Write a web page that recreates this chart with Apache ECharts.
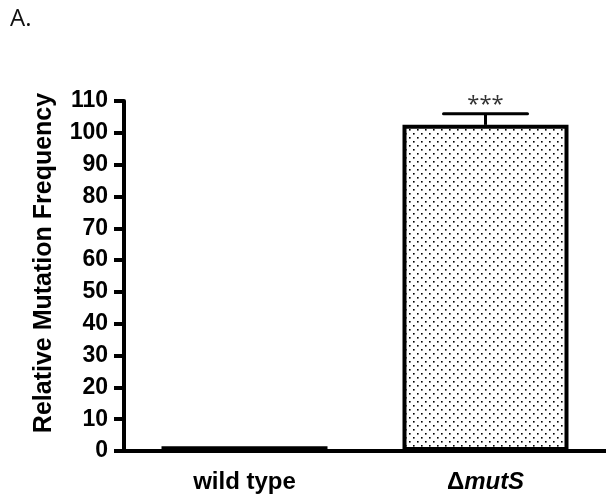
<!DOCTYPE html>
<html><head><meta charset="utf-8">
<script src="https://cdn.jsdelivr.net/npm/echarts@6/dist/echarts.min.js"></script>
<style>html,body{margin:0;padding:0;background:#fff}#c{width:606px;height:497px}</style>
</head><body><div id="c"></div>
<script>
const categories = ['wild type', 'ΔmutS'];
const means = [1.5, 102.5];
const errors = [0, 3.5];
const sigLabels = ['', '***'];
const yTicks = {min: 0, max: 110, interval: 10};

const tile = document.createElement('canvas');
tile.width = 8; tile.height = 8;
const tc = tile.getContext('2d');
tc.fillStyle = '#fff'; tc.fillRect(0,0,8,8);
tc.fillStyle = '#000';
tc.fillRect(1,1,1.6,1.6);
tc.fillRect(5,5,1.6,1.6);

const chart = echarts.init(document.getElementById('c'), null, {renderer: 'canvas'});
const font = 'Liberation Sans, Arial, sans-serif';
chart.setOption({
  animation: false,
  graphic: [{type: 'text', left: 10, top: 7, style: {text: 'A.', font: '24px "Open Sans", sans-serif', fill: '#111'}}],
  grid: {left: 124, right: 0, top: 101, bottom: 46},
  xAxis: {
    type: 'category', data: categories,
    axisLine: {lineStyle: {color: '#000', width: 4}},
    axisTick: {alignWithLabel: true, length: 10, lineStyle: {color: '#000', width: 4}},
    axisLabel: {margin: 19, color: '#000', fontFamily: font, fontWeight: 'bold', fontSize: 24,
      formatter: v => v === 'ΔmutS' ? '{d|Δ}{i|mutS}' : v,
      rich: {d: {fontFamily: font, fontWeight: 'bold', fontSize: 24, color: '#000'},
             i: {fontFamily: font, fontWeight: 'bold', fontStyle: 'italic', fontSize: 24, color: '#000'}}}
  },
  yAxis: {
    type: 'value', min: yTicks.min, max: yTicks.max, interval: yTicks.interval,
    name: 'Relative Mutation Frequency', nameLocation: 'middle', nameGap: 67,
    nameTextStyle: {color: '#000', fontFamily: font, fontWeight: 'bold', fontSize: 25, padding: [0, 0, 0, 26]},
    axisLine: {show: true, lineStyle: {color: '#000', width: 4}},
    axisTick: {show: true, length: 10, lineStyle: {color: '#000', width: 4}},
    axisLabel: {margin: 16, color: '#000', fontFamily: font, fontWeight: 'bold', fontSize: 23},
    splitLine: {show: false}
  },
  series: [{
    type: 'bar', data: means, barWidth: 166,
    itemStyle: {color: {image: tile, repeat: 'repeat'}, borderColor: '#000', borderWidth: 4}
  }, {
    type: 'custom',
    data: means.map((m, i) => [i, m, errors[i]]),
    renderItem: (params, api) => {
      const i = api.value(0), m = api.value(1), e = api.value(2);
      if (!e) return {type: 'group', children: []};
      const base = api.coord([i, m]);
      const top = api.coord([i, m + e]);
      const half = 42;
      return {type: 'group', children: [
        {type: 'line', shape: {x1: top[0], y1: top[1], x2: base[0], y2: base[1]}, style: {stroke: '#000', lineWidth: 3}},
        {type: 'line', shape: {x1: top[0]-half, y1: top[1], x2: top[0]+half, y2: top[1]}, style: {stroke: '#000', lineWidth: 3, lineCap: 'round'}},
        {type: 'text', x: top[0], y: top[1] + 2, style: {text: sigLabels[i], font: '22px "Open Sans", sans-serif', fill: '#333', align: 'center', verticalAlign: 'bottom'}}
      ]};
    },
    z: 5
  }]
});
</script></body></html>
